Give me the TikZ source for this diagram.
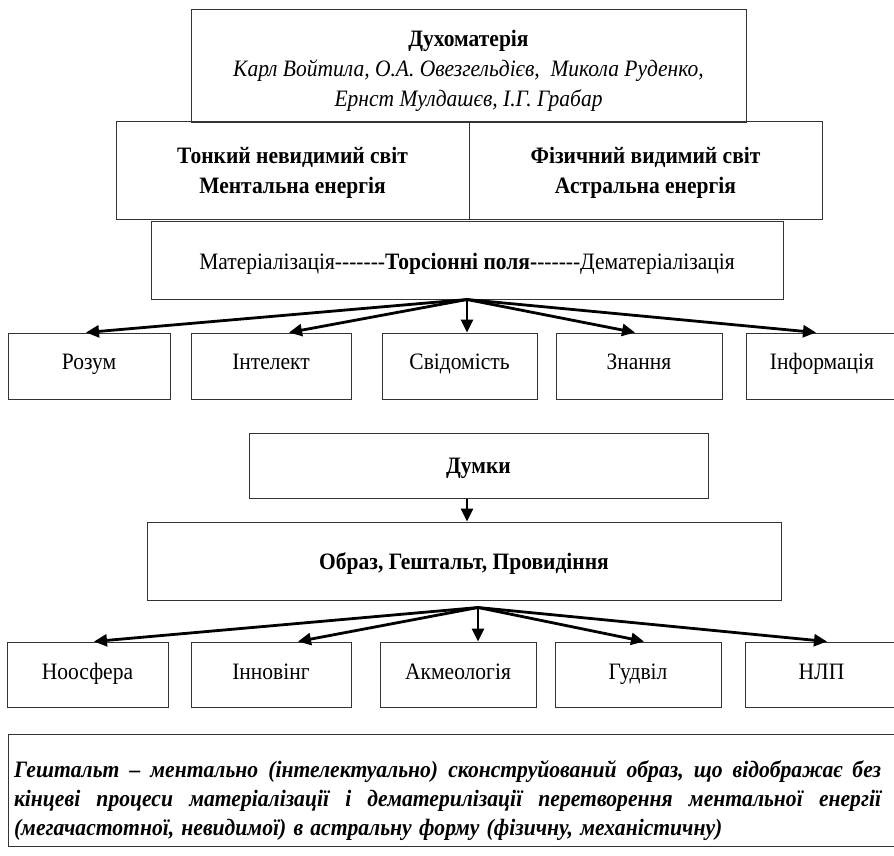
\documentclass[tikz,border=0pt]{standalone}
\usepackage{fontspec}
\usepackage{graphicx}
\setmainfont{Liberation Serif}[Ligatures=TeXOff]
\usetikzlibrary{arrows.meta,calc}
\newcommand\fs{\fontsize{23.5}{30}\selectfont}
\newcommand\sq[1]{\scalebox{0.915}[1]{#1}}
\newcommand\nq[1]{\scalebox{0.92}[1]{#1}}
\newcommand\gp{\hfill\ \hfill}
\begin{document}
\begin{tikzpicture}[x=1pt,y=-1pt,
  box/.style={draw=black!80, line width=1pt, inner sep=0pt, align=center, font=\fs},
  one/.style={box, text height=16pt, text depth=9pt},
  arr/.style={line width=2.8pt, -{Triangle[length=13pt,width=12pt]}}]
\useasboundingbox (0,0) rectangle (894,855);

% top block
\node[box, minimum width=555pt, minimum height=113pt] (duho) at (468.5,66)
  {\rule{0pt}{26pt}\sq{\bfseries Духоматерія}\\\sq{\itshape Карл Войтила, О.А. Овезгельдієв,\ \ Микола Руденко,}\\\sq{\itshape Ернст Мулдашєв, І.Г. Грабар}};
\node[box, font=\fs\bfseries, minimum width=353pt, minimum height=98pt] (tonk) at (292.5,170)
  {\rule{0pt}{22pt}\sq{Тонкий невидимий світ}\\\sq{Ментальна енергія}};
\node[box, font=\fs\bfseries, minimum width=353pt, minimum height=98pt] (fiz) at (645.5,170)
  {\rule{0pt}{22pt}\sq{Фізичний видимий світ}\\\sq{Астральна енергія}};
\node[box, text height=20pt, text depth=1pt, minimum width=632pt, minimum height=78pt] (tors) at (467,260)
  {\sq{Матеріалізація-------\textbf{Торсіонні поля-}------Дематеріалізація}};

% row 4
\node[one, minimum width=162pt, minimum height=66pt] (rozum) at (89,366) {\sq{Розум}};
\node[one, minimum width=160pt, minimum height=66pt] (intel) at (271,366) {\sq{Інтелект}};
\node[one, minimum width=155pt, minimum height=66pt] (svid) at (459.5,366) {\sq{Свідомість}};
\node[one, minimum width=166pt, minimum height=66pt] (znan) at (639,366) {\sq{Знання}};
\node[one, minimum width=152pt, minimum height=66pt] (inf) at (822,366) {\sq{Інформація}};

\coordinate (t1) at ($(rozum.north)+(-3,0)$);
\coordinate (t2) at ($(intel.north)+(18,0)$);
\coordinate (t3) at ($(svid.north)+(7.5,0)$);
\coordinate (t4) at ($(znan.north)+(-4,0)$);
\coordinate (t5) at ($(inf.north)+(-6,0)$);
\foreach \t in {t1,t2,t3,t4,t5} \draw[arr] (tors.south) -- (\t);

% lower block
\node[box, text height=20pt, text depth=4pt, font=\fs\bfseries, minimum width=459pt, minimum height=65pt] (dumky) at (478.5,465.5) {\sq{Думки}};
\node[box, text height=20pt, text depth=3pt, font=\fs\bfseries, minimum width=634pt, minimum height=78pt] (obraz) at (464,561) {\sq{Образ, Гештальт, Провидіння}};
\coordinate (d1) at (obraz.north -| 467,0);
\draw[arr] (dumky.south -| d1) -- (d1);

\tikzset{six/.style={box, text height=17pt, text depth=7pt, minimum height=65pt}}
\node[six, minimum width=161pt] (noos) at (87.5,674.5) {\sq{Ноосфера}};
\node[six, minimum width=160pt] (innov) at (271,674.5) {\sq{Інновінг}};
\node[six, minimum width=156pt] (akme) at (458,674.5) {\sq{Акмеологія}};
\node[six, minimum width=166pt] (gudv) at (638,674.5) {\sq{Гудвіл}};
\node[six, minimum width=153pt] (nlp) at (821.5,674.5) {\sq{НЛП}};

\coordinate (f2) at ($(obraz.south)+(14,7)$);
\coordinate (u1) at ($(noos.north)+(6.5,0)$);
\coordinate (u2) at ($(innov.north)+(27,0)$);
\coordinate (u3) at ($(akme.north)+(20,0)$);
\coordinate (u4) at ($(gudv.north)+(6,0)$);
\coordinate (u5) at ($(nlp.north)+(5.5,0)$);
\foreach \t in {u1,u2,u3,u4,u5} \draw[arr] (f2) -- (\t);

% bottom note
\node[box, minimum width=890pt, minimum height=112pt, text width=878pt, align=left,
      font=\fontsize{23.5}{29}\selectfont\bfseries\itshape] (note) at (453,790)
  {\rule{0pt}{38pt}\nq{\hbox to 942.4pt{Гештальт\gp–\gp ментально\gp(інтелектуально)\gp сконструйований\gp образ,\gp що\gp відображає\gp без}}\\
   \nq{\hbox to 942.4pt{кінцеві\gp процеси\gp матеріалізації\gp і\gp дематерилізації\gp перетворення\gp ментальної\gp енергії}}\\
   \nq{(мегачастотної, невидимої) в астральну форму (фізичну, механістичну)}};
\end{tikzpicture}
\end{document}
